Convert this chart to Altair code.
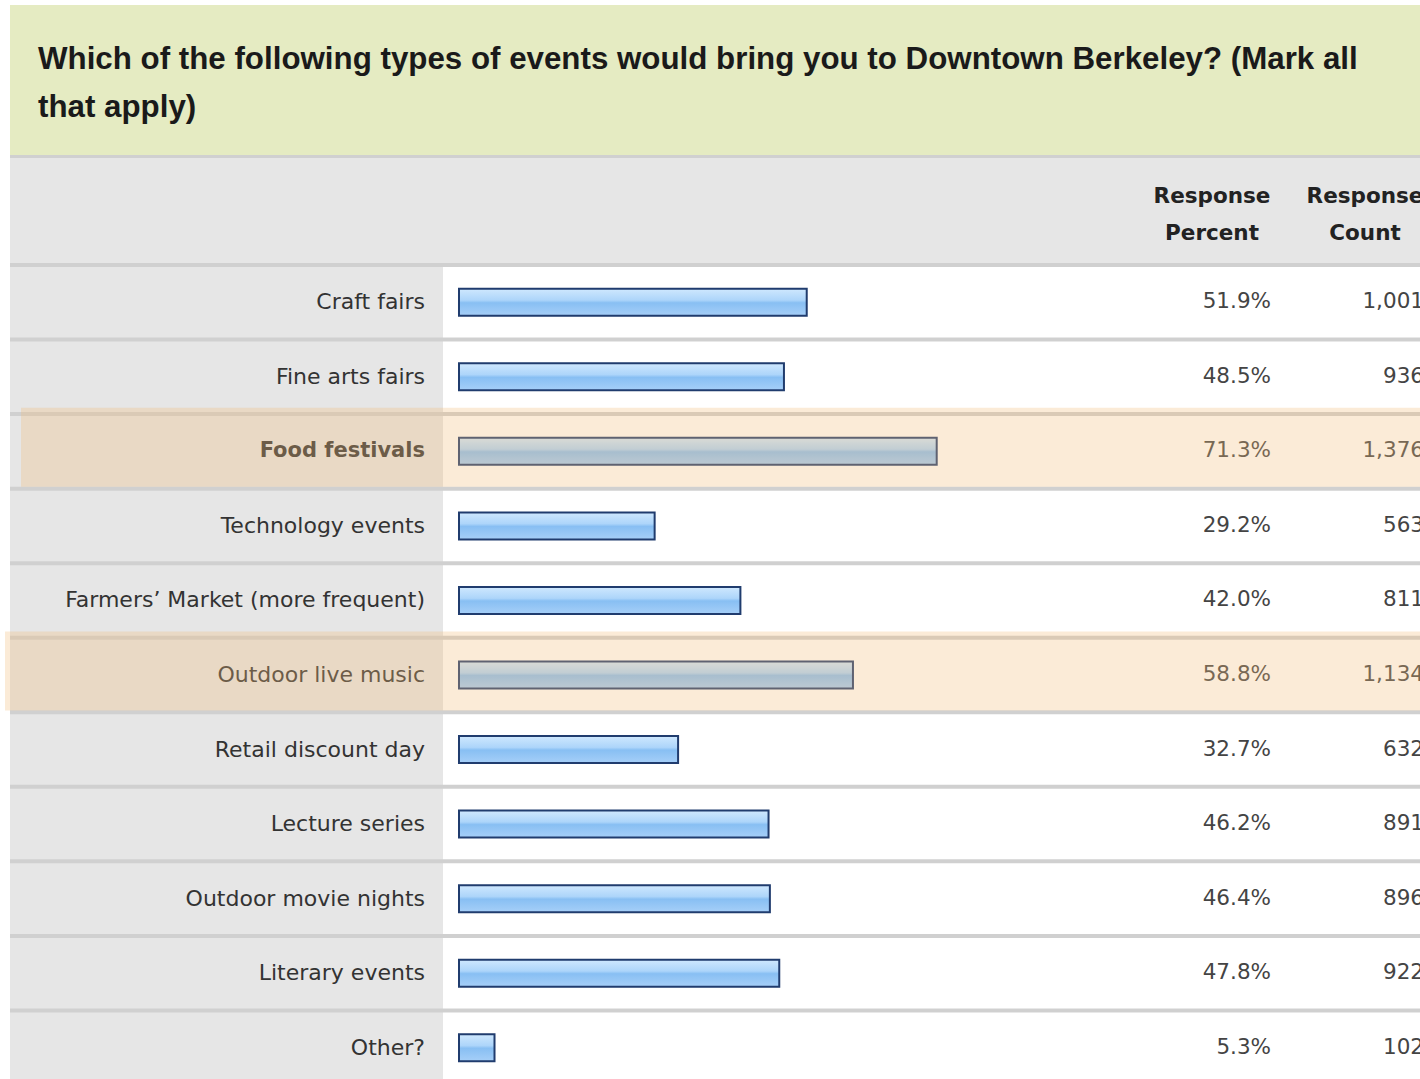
import altair as alt
import pandas as pd

# ---- data ----
title_lines = "Which of the following types of events would bring you to Downtown Berkeley? (Mark all\nthat apply)"
categories = [
    "Craft fairs",
    "Fine arts fairs",
    "Food festivals",
    "Technology events",
    "Farmers’ Market (more frequent)",
    "Outdoor live music",
    "Retail discount day",
    "Lecture series",
    "Outdoor movie nights",
    "Literary events",
    "Other?",
]
percents = [51.9, 48.5, 71.3, 29.2, 42.0, 58.8, 32.7, 46.2, 46.4, 47.8, 5.3]
counts = [1001, 936, 1376, 563, 811, 1134, 632, 891, 896, 922, 102]
bold_rows = ["Food festivals"]
highlight_rows = ["Food festivals", "Outdoor live music"]
header_percent = "Response\nPercent"
header_count = "Response\nCount"

df = pd.DataFrame({
    "category": categories,
    "pct": percents,
    "count": counts,
})
df["pct_label"] = [f"{p:.1f}%" for p in percents]
df["count_label"] = [f"{c:,}" for c in counts]

one = pd.DataFrame({"k": [0]})

yscale = alt.Scale(domain=categories, range=[265, 1085], paddingInner=0.0537, paddingOuter=0.0268)
Y = alt.Y("category:N", scale=yscale, axis=None)

LABEL_FONT = "DejaVu Sans"

# backgrounds
title_band = alt.Chart(one).mark_rect(color="#E5EBC2").encode(
    x=alt.value(10), x2=alt.value(1420), y=alt.value(5), y2=alt.value(155))
sep_bg = alt.Chart(one).mark_rect(color="#D0D0D0").encode(
    x=alt.value(10), x2=alt.value(1420), y=alt.value(155), y2=alt.value(1079))
header_bg = alt.Chart(one).mark_rect(color="#E6E6E6").encode(
    x=alt.value(10), x2=alt.value(1420), y=alt.value(158), y2=alt.value(263))

row_left = alt.Chart(df).mark_rect(color="#E6E6E6").encode(
    x=alt.value(10), x2=alt.value(443), y=Y)
row_right = alt.Chart(df).mark_rect(color="#FFFFFF").encode(
    x=alt.value(443), x2=alt.value(1420), y=Y)

grad = alt.Gradient(
    gradient="linear",
    stops=[
        alt.GradientStop(color="#CFE8FE", offset=0),
        alt.GradientStop(color="#ADD5FA", offset=0.42),
        alt.GradientStop(color="#88BFF3", offset=0.52),
        alt.GradientStop(color="#A6CFF8", offset=1),
    ],
    x1=0, x2=0, y1=0, y2=1,
)

bars = alt.Chart(df).mark_bar(size=27, color=grad, stroke="#203C6E", strokeWidth=2).encode(
    x=alt.X("pct:Q", scale=alt.Scale(domain=[0, 100], range=[459, 1129]), axis=None),
    y=Y,
)

labels = alt.Chart(df).transform_filter(
    alt.FieldOneOfPredicate(field="category", oneOf=[c for c in categories if c not in bold_rows])
).mark_text(align="right", baseline="middle", font=LABEL_FONT, fontSize=22, color="#333333").encode(
    x=alt.value(425), y=Y, text="category:N")

labels_bold = alt.Chart(df).transform_filter(
    alt.FieldOneOfPredicate(field="category", oneOf=bold_rows)
).mark_text(align="right", baseline="middle", font=LABEL_FONT, fontSize=21, fontWeight="bold", color="#333333").encode(
    x=alt.value(425), y=Y, text="category:N")

pct_text = alt.Chart(df).mark_text(align="right", baseline="middle", font=LABEL_FONT, fontSize=21.5, color="#444444").encode(
    x=alt.value(1271), y=Y, text="pct_label:N")

count_text = alt.Chart(df).mark_text(align="right", baseline="middle", font=LABEL_FONT, fontSize=21.5, color="#444444").encode(
    x=alt.value(1424), y=Y, text="count_label:N")

title = alt.Chart(one).mark_text(
    align="left", baseline="alphabetic", font="Liberation Sans", fontSize=31.3, fontWeight="bold",
    color="#1A1A1A", lineBreak="\n", lineHeight=48).encode(
    x=alt.value(38), y=alt.value(69), text=alt.value(title_lines))

hdr_pct = alt.Chart(one).mark_text(
    align="center", baseline="alphabetic", font=LABEL_FONT, fontSize=21.5, fontWeight="bold",
    color="#222222", lineBreak="\n", lineHeight=37).encode(
    x=alt.value(1212), y=alt.value(203), text=alt.value(header_percent))

hdr_cnt = alt.Chart(one).mark_text(
    align="center", baseline="alphabetic", font=LABEL_FONT, fontSize=21.5, fontWeight="bold",
    color="#222222", lineBreak="\n", lineHeight=37).encode(
    x=alt.value(1365), y=alt.value(203), text=alt.value(header_count))

overlay_food = alt.Chart(df).transform_filter(
    alt.datum.category == highlight_rows[0]
).mark_bar(size=79, yOffset=-4, color="#F2BC7A", opacity=0.3).encode(
    x=alt.value(21), x2=alt.value(1420), y=Y)

overlay_music = alt.Chart(df).transform_filter(
    alt.datum.category == highlight_rows[1]
).mark_bar(size=79, yOffset=-4, color="#F2BC7A", opacity=0.3).encode(
    x=alt.value(5), x2=alt.value(1420), y=Y)

chart = alt.layer(
    title_band, sep_bg, header_bg, row_left, row_right, bars,
    labels, labels_bold, pct_text, count_text, title, hdr_pct, hdr_cnt,
    overlay_food, overlay_music,
).properties(
    width=1420, height=1079, autosize="none", padding=0, background="#FFFFFF"
).configure_view(stroke=None)

chart.save("out.html", embed_options={"renderer": "svg", "actions": False})
